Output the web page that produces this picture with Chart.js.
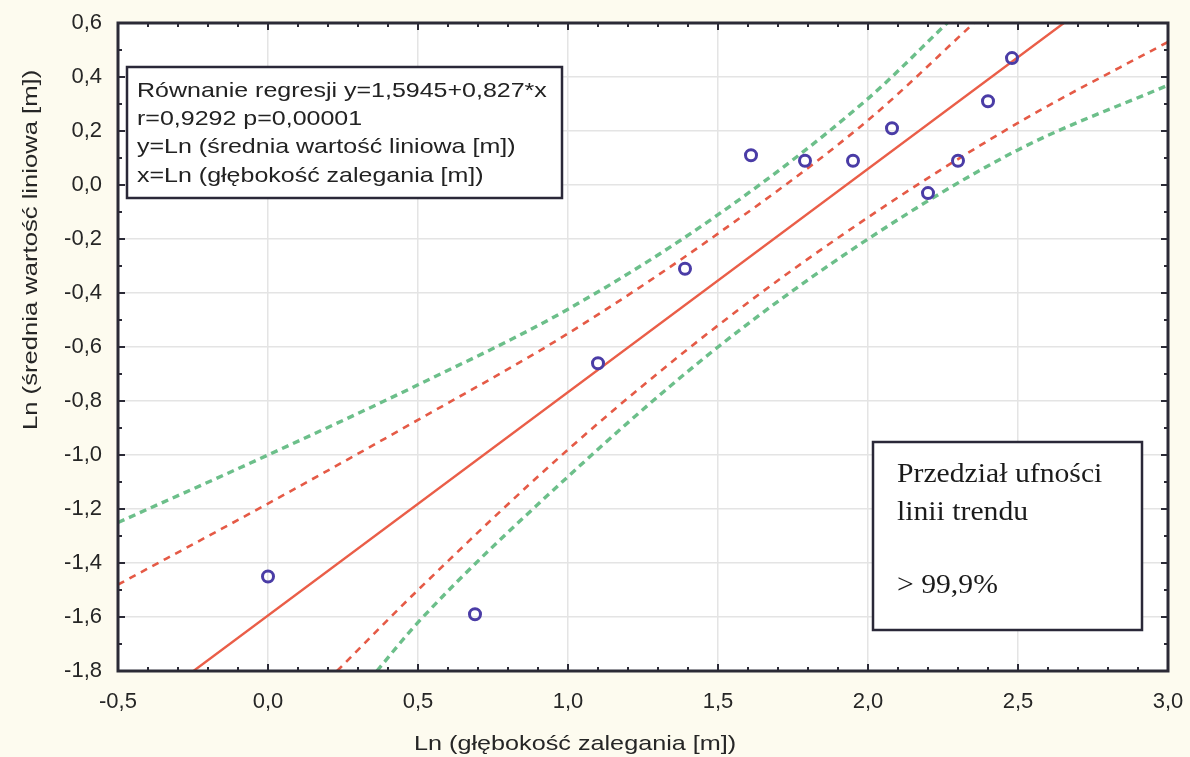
<!DOCTYPE html>
<html><head><meta charset="utf-8">
<script src="https://cdn.jsdelivr.net/npm/chart.js@4.4.1/dist/chart.umd.min.js"></script>
<style>html,body{margin:0;padding:0;background:#fdfbef;overflow:hidden}#wrap{width:1190px;height:757px}</style>
</head><body><div id="wrap"><canvas id="c" width="1190" height="757"></canvas></div>
<script>
// observed points: x = Ln(depth), y = Ln(mean linear value)
const pointX = [0.00, 0.69, 1.10, 1.39, 1.61, 1.79, 1.95, 2.08, 2.20, 2.30, 2.40, 2.48];
const pointY = [-1.45, -1.59, -0.66, -0.31, 0.11, 0.09, 0.09, 0.21, -0.03, 0.09, 0.31, 0.47];
// regression line y = -1.5945 + 0.827x, at the x-axis limits
const trendX = [-0.5, 3.0];
const trendY = [-2.008, 0.887];
// inner (red dashed) confidence band
const upperRedX = [-0.5, 0.0, 0.5, 1.0, 1.5, 2.0, 2.353];
const upperRedY = [-1.48, -1.18, -0.87, -0.55, -0.18, 0.24, 0.60];
const lowerRedX = [0.23, 0.5, 1.0, 1.5, 2.0, 2.5, 3.0];
const lowerRedY = [-1.80, -1.50, -0.98, -0.52, -0.12, 0.23, 0.53];
// outer (green dotted) confidence band
const upperGreenX = [-0.5, 0.0, 0.5, 1.0, 1.5, 2.0, 2.264];
const upperGreenY = [-1.25, -1.00, -0.74, -0.46, -0.11, 0.32, 0.60];
const lowerGreenX = [0.363, 0.5, 1.0, 1.5, 2.0, 2.5, 3.0];
const lowerGreenY = [-1.80, -1.62, -1.08, -0.60, -0.20, 0.13, 0.37];
// tick labels
const xTickValues = [-0.5, 0.0, 0.5, 1.0, 1.5, 2.0, 2.5, 3.0];
const yTickValues = [-1.8, -1.6, -1.4, -1.2, -1.0, -0.8, -0.6, -0.4, -0.2, 0.0, 0.2, 0.4, 0.6];
const xTitle = 'Ln (głębokość zalegania [m])';
const yTitle = 'Ln (średnia wartość liniowa [m])';
const infoLines = ['Równanie regresji y=1,5945+0,827*x', 'r=0,9292 p=0,00001', 'y=Ln (średnia wartość liniowa [m])', 'x=Ln (głębokość zalegania [m])'];
const bandLines = ['Przedział ufności', 'linii trendu', '', '> 99,9%'];

const pts = (xs, ys) => xs.map((x, i) => ({x: x, y: ys[i]}));
const fmt = v => (Math.abs(v) < 1e-9 ? 0 : v).toFixed(1).replace('.', ',');
const SANS = '"Liberation Sans", Arial, sans-serif';
const SERIF = '"Liberation Serif", "Times New Roman", serif';

function stretchText(ctx, text, x, y, font, sx, rot) {
  ctx.save();
  ctx.translate(x, y);
  if (rot) ctx.rotate(rot);
  ctx.scale(sx, 1);
  ctx.font = font;
  ctx.fillText(text, 0, 0);
  ctx.restore();
}

const decor = {
  id: 'decor',
  beforeDraw(chart) {
    const {ctx, chartArea: a} = chart;
    ctx.save();
    ctx.fillStyle = '#fdfbef';
    ctx.fillRect(0, 0, chart.width, chart.height);
    ctx.fillStyle = '#ffffff';
    ctx.fillRect(a.left, a.top, a.right - a.left, a.bottom - a.top);
    ctx.restore();
  },
  afterDraw(chart) {
    const {ctx, chartArea: a, scales} = chart;
    const xs = scales.x, ys = scales.y;
    ctx.save();
    // inward ticks on all four sides
    ctx.strokeStyle = '#2b2a36';
    ctx.lineWidth = 2;
    for (let i = 0; i <= 35; i++) {
      const v = -0.5 + i * 0.1;
      const px = Math.round(xs.getPixelForValue(v));
      const len = i % 5 === 0 ? 7 : 4;
      ctx.beginPath();
      ctx.moveTo(px, a.bottom); ctx.lineTo(px, a.bottom - len);
      ctx.moveTo(px, a.top); ctx.lineTo(px, a.top + len);
      ctx.stroke();
    }
    for (let i = 0; i <= 24; i++) {
      const v = -1.8 + i * 0.1;
      const py = Math.round(ys.getPixelForValue(v));
      const len = i % 2 === 0 ? 7 : 4;
      ctx.beginPath();
      ctx.moveTo(a.left, py); ctx.lineTo(a.left + len, py);
      ctx.moveTo(a.right, py); ctx.lineTo(a.right - len, py);
      ctx.stroke();
    }
    // frame
    ctx.lineWidth = 3;
    ctx.strokeRect(a.left, a.top, a.right - a.left, a.bottom - a.top);

    // regression info box
    ctx.fillStyle = '#ffffff';
    ctx.fillRect(127, 67, 435, 131);
    ctx.lineWidth = 2.5;
    ctx.strokeStyle = '#2a2838';
    ctx.strokeRect(127, 67, 435, 131);
    ctx.fillStyle = '#222222';
    ctx.textBaseline = 'alphabetic';
    ctx.textAlign = 'left';
    const base1 = [97, 125, 153, 181.5];
    infoLines.forEach((t, i) => stretchText(ctx, t, 137, base1[i], '21px ' + SANS, 1.19, 0));

    // confidence box
    ctx.fillStyle = '#ffffff';
    ctx.fillRect(873, 442, 269, 188);
    ctx.strokeStyle = '#2a2838';
    ctx.strokeRect(873, 442, 269, 188);
    ctx.fillStyle = '#1b1b1b';
    const base2 = [482, 520, 556, 593];
    bandLines.forEach((t, i) => { if (t) stretchText(ctx, t, 897, base2[i], '27px ' + SERIF, 1.1, 0); });

    // axis titles
    ctx.fillStyle = '#262626';
    stretchText(ctx, xTitle, 414, 750, '21px ' + SANS, 1.2, 0);
    stretchText(ctx, yTitle, 37, 430, '21px ' + SANS, 1.22, -Math.PI / 2);
    ctx.restore();
  }
};

const lineDs = (label, xs, ys, color, width, dash) => ({
  label, data: pts(xs, ys), showLine: true, borderColor: color, borderWidth: width,
  borderDash: dash, pointRadius: 0, fill: false, cubicInterpolationMode: 'monotone'
});

new Chart(document.getElementById('c'), {
  type: 'scatter',
  data: {
    datasets: [
      { label: 'dane', data: pts(pointX, pointY), pointRadius: 5.5, pointBorderWidth: 3,
        pointBorderColor: '#4a3ca6', pointBackgroundColor: 'rgba(255,255,255,0)', showLine: false },
      lineDs('trend', trendX, trendY, '#ea5e48', 2.4, []),
      lineDs('upper red', upperRedX, upperRedY, '#e55a46', 2.6, [7, 6]),
      lineDs('lower red', lowerRedX, lowerRedY, '#e55a46', 2.6, [7, 6]),
      lineDs('upper green', upperGreenX, upperGreenY, '#6cbf8a', 3.4, [7, 5]),
      lineDs('lower green', lowerGreenX, lowerGreenY, '#6cbf8a', 3.4, [7, 5])
    ]
  },
  options: {
    responsive: false, animation: false, devicePixelRatio: 1,
    layout: { padding: { left: 0, top: 23, right: 22, bottom: 0 } },
    plugins: { legend: { display: false }, tooltip: { enabled: false } },
    scales: {
      x: {
        type: 'linear', min: -0.5, max: 3.0,
        afterBuildTicks: s => { s.ticks = xTickValues.map(v => ({ value: v })); },
        afterFit: s => { s.height = 86; s.paddingLeft = 0; s.paddingRight = 0; },
        grid: { color: '#e4e4e4', lineWidth: 1.5, drawTicks: false },
        border: { display: false },
        ticks: { padding: 18, color: '#262626', font: { family: SANS, size: 22 },
                 callback: v => fmt(v), maxRotation: 0, autoSkip: false }
      },
      y: {
        type: 'linear', min: -1.8, max: 0.6,
        afterBuildTicks: s => { s.ticks = yTickValues.map(v => ({ value: v })); },
        afterFit: s => { s.width = 118; s.paddingTop = 0; s.paddingBottom = 0; },
        grid: { color: '#e4e4e4', lineWidth: 1.5, drawTicks: false },
        border: { display: false },
        ticks: { padding: 16, color: '#262626', font: { family: SANS, size: 22 },
                 callback: v => fmt(v), autoSkip: false }
      }
    }
  },
  plugins: [decor]
});
</script></body></html>
